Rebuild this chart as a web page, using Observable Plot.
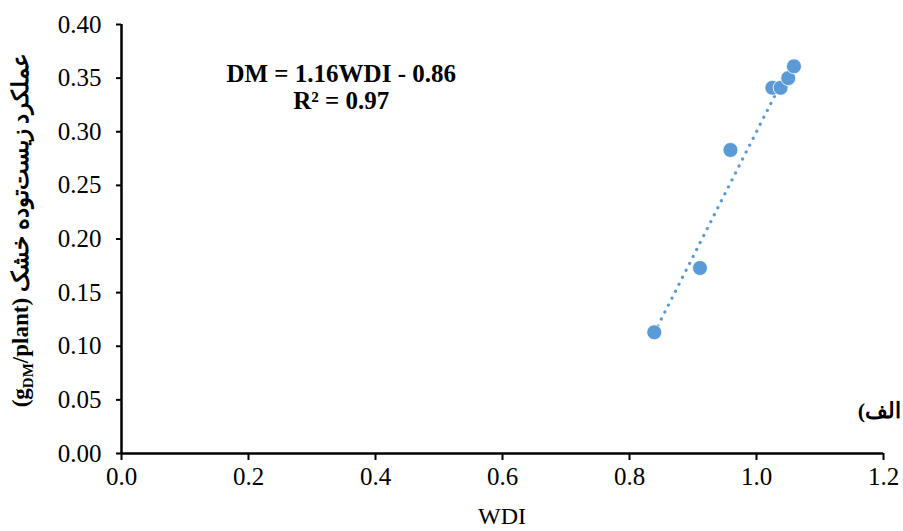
<!DOCTYPE html>
<html>
<head>
<meta charset="utf-8">
<script src="https://cdn.jsdelivr.net/npm/d3@7"></script>
<script src="https://cdn.jsdelivr.net/npm/@observablehq/plot@0.6"></script>
<style>
  body { margin: 0; background: #fff; }
  #chart svg { display: block; }
</style>
</head>
<body>
<div id="chart"></div>
<script>
// Data
const wdi = [0.839, 0.911, 0.959, 1.025, 1.038, 1.050, 1.059];
const dm  = [0.113, 0.173, 0.283, 0.341, 0.341, 0.350, 0.361];
const xTicks = [0, 0.2, 0.4, 0.6, 0.8, 1.0, 1.2];
const yTicks = [0, 0.05, 0.10, 0.15, 0.20, 0.25, 0.30, 0.35, 0.40];
const equationLines = ["DM = 1.16WDI - 0.86", "R² = 0.97"];
const equationPos = {x: 0.346, y: 0.342};
const panelLabel = "الف)";
const xLabel = "WDI";

const points = wdi.map((x, i) => ({x, y: dm[i]}));
const blue = "#5B9BD5";
const font = "'Liberation Serif', 'Times New Roman', serif";

const plot = Plot.plot({
  width: 903,
  height: 531,
  marginLeft: 121,
  marginRight: 20,
  marginTop: 24,
  marginBottom: 78,
  style: {fontFamily: font, fontSize: "25px", color: "#000", background: "#fff"},
  x: {domain: [0, 1.2]},
  y: {domain: [0, 0.4]},
  marks: [
    Plot.axisY({ticks: yTicks, tickFormat: d3.format(".2f"), tickSize: 5, tickPadding: 15, strokeWidth: 2, label: null, fontSize: 25}),
    Plot.axisX({ticks: xTicks, tickFormat: d3.format(".1f"), tickSize: 7, tickPadding: 7, strokeWidth: 2, label: null, fontSize: 25}),
    Plot.ruleX([0], {stroke: "#000", strokeWidth: 2.5}),
    Plot.ruleY([0], {stroke: "#000", strokeWidth: 2.5}),
    Plot.linearRegressionY(points, {x: "x", y: "y", ci: 0, stroke: blue, strokeWidth: 3.2, strokeDasharray: "0.1 7.7", strokeLinecap: "round"}),
    Plot.dot(points, {x: "x", y: "y", r: 7.5, fill: blue, stroke: "#fff", strokeWidth: 0.8}),
    Plot.text([equationLines.join("\n")], {x: equationPos.x, y: equationPos.y, lineAnchor: "middle", lineHeight: 1.1, fontWeight: "bold", fontSize: 25, fill: "#000"})
  ]
});

document.getElementById("chart").appendChild(plot);

const svg = d3.select(plot);
// X axis title
svg.append("text")
  .attr("x", (121 + 883) / 2).attr("y", 524)
  .attr("text-anchor", "middle")
  .attr("font-family", font).attr("font-size", 24)
  .text(xLabel);

// Y axis title (Persian + unit with subscript)
const yl = svg.append("text")
  .attr("transform", "translate(28,230) rotate(-90)")
  .attr("text-anchor", "middle")
  .attr("font-family", font).attr("font-size", 23).attr("font-weight", "bold");
yl.append("tspan").text("(g");
yl.append("tspan").attr("font-size", 15).attr("dy", 5).text("DM");
yl.append("tspan").attr("dy", -5).text("/plant) عملکرد زیست\u200Cتوده خشک");

// Panel label
svg.append("text")
  .attr("x", 901).attr("y", 418)
  .attr("direction", "rtl")
  .attr("text-anchor", "start")
  .attr("font-family", font).attr("font-size", 22).attr("font-weight", "bold")
  .text(panelLabel);
</script>
</body>
</html>
